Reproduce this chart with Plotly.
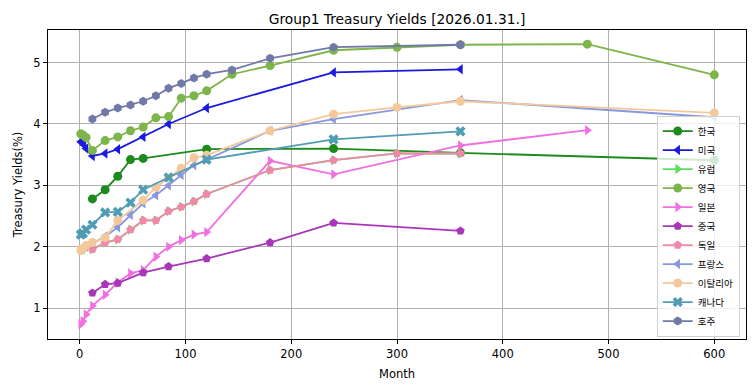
import plotly.graph_objects as go

# ---- data (months to maturity, yield %) ----
korea_m = [12, 24, 36, 48, 60, 120, 240, 360, 600]
korea_v = [2.78, 2.93, 3.15, 3.42, 3.44, 3.59, 3.60, 3.53, 3.41]

us_m = [1, 2, 3, 4, 6, 12, 24, 36, 60, 84, 120, 240, 360]
us_v = [3.71, 3.70, 3.68, 3.66, 3.60, 3.48, 3.52, 3.59, 3.79, 4.00, 4.26, 4.84, 4.89]

germany_m = [12, 24, 36, 48, 60, 72, 84, 96, 108, 120, 180, 240, 300, 360]
germany_v = [1.96, 2.07, 2.12, 2.28, 2.43, 2.43, 2.58, 2.65, 2.74, 2.86, 3.25, 3.41, 3.52, 3.52]

europe_m = [12, 24, 36, 48, 60, 72, 84, 96, 108, 120, 180, 240, 300, 360]
europe_v = [1.96, 2.07, 2.12, 2.28, 2.43, 2.43, 2.58, 2.65, 2.74, 2.86, 3.25, 3.41, 3.52, 3.52]

uk_m = [1, 3, 6, 12, 24, 36, 48, 60, 72, 84, 96, 108, 120, 144, 180, 240, 300, 360, 480, 600]
uk_v = [3.84, 3.82, 3.78, 3.57, 3.73, 3.79, 3.89, 3.95, 4.10, 4.12, 4.42, 4.46, 4.54, 4.81, 4.95, 5.20, 5.25, 5.29, 5.30, 4.80]

japan_m = [1, 3, 6, 12, 24, 36, 48, 60, 72, 84, 96, 108, 120, 180, 240, 360, 480]
japan_v = [0.74, 0.79, 0.90, 1.04, 1.22, 1.42, 1.57, 1.62, 1.84, 2.00, 2.11, 2.20, 2.24, 3.40, 3.18, 3.65, 3.90]

china_m = [12, 24, 36, 60, 84, 120, 180, 240, 360]
china_v = [1.25, 1.39, 1.41, 1.58, 1.68, 1.81, 2.07, 2.39, 2.26]

france_m = [3, 6, 12, 24, 36, 48, 60, 72, 84, 96, 108, 120, 180, 240, 360, 600]
france_v = [1.97, 2.00, 2.05, 2.17, 2.32, 2.52, 2.71, 2.84, 3.00, 3.17, 3.33, 3.42, 3.89, 4.08, 4.39, 4.11]

italy_m = [1, 3, 6, 12, 24, 36, 60, 72, 84, 96, 108, 120, 180, 240, 300, 360, 600]
italy_v = [1.94, 1.97, 2.02, 2.07, 2.15, 2.43, 2.76, 2.97, 3.12, 3.28, 3.45, 3.49, 3.89, 4.16, 4.27, 4.37, 4.18]

canada_m = [1, 2, 3, 6, 12, 24, 36, 48, 60, 84, 120, 240, 360]
canada_v = [2.20, 2.21, 2.22, 2.28, 2.36, 2.56, 2.57, 2.72, 2.93, 3.13, 3.42, 3.75, 3.88]

australia_m = [12, 24, 36, 48, 60, 72, 84, 96, 108, 120, 144, 180, 240, 360]
australia_v = [4.08, 4.19, 4.26, 4.31, 4.37, 4.46, 4.58, 4.66, 4.75, 4.81, 4.88, 5.07, 5.25, 5.29]

names = ["한국", "미국", "유럽", "영국", "일본", "중국", "독일", "프랑스", "이탈리아", "캐나다", "호주"]
months = [korea_m, us_m, europe_m, uk_m, japan_m, china_m, germany_m, france_m, italy_m, canada_m, australia_m]
values = [korea_v, us_v, europe_v, uk_v, japan_v, china_v, germany_v, france_v, italy_v, canada_v, australia_v]
colors = ["#1c8a1c", "#1a1ae0", "#5ee05e", "#7db54a", "#f070e0", "#a836b8",
          "#f088a8", "#8898e0", "#f4c89a", "#509cb4", "#7079a8"]
symbols = ["circle", "triangle-left", "triangle-right", "circle", "triangle-right", "pentagon",
           "pentagon", "triangle-left", "circle", "x", "hexagon"]

x_ticks = [0, 100, 200, 300, 400, 500, 600]
y_ticks = [1, 2, 3, 4, 5]

fig = go.Figure()
for n, m, v, c, s in zip(names, months, values, colors, symbols):
    fig.add_trace(go.Scatter(
        x=m, y=v, name=n, mode="lines+markers",
        line=dict(color=c, width=1.8),
        marker=dict(color=c, symbol=s, size=9, line=dict(width=0)),
    ))

font_main = "DejaVu Sans, sans-serif"
axis_common = dict(
    showline=True, linecolor="black", linewidth=1, mirror=True,
    ticks="outside", ticklen=4, tickcolor="black",
    showgrid=True, gridcolor="#b0b0b0", gridwidth=1, zeroline=False,
    automargin=False,
    tickfont=dict(family=font_main, size=11.5, color="black"),
)

fig.update_layout(
    width=755, height=391,
    margin=dict(l=48, r=9, t=30, b=52),
    paper_bgcolor="white", plot_bgcolor="white",
    title=dict(text="Group1 Treasury Yields [2026.01.31.]", x=0.5, xref="paper",
               y=1 - 19 / 391, yref="container", yanchor="middle",
               font=dict(family=font_main, size=13.8, color="black")),
    xaxis=dict(range=[-30, 630], tickvals=x_ticks,
               title=dict(text="Month", standoff=10,
                          font=dict(family=font_main, size=11.5, color="black")),
               **axis_common),
    yaxis=dict(range=[0.5, 5.53], tickvals=y_ticks,
               title=dict(text="Treasury Yields(%)", standoff=8,
                          font=dict(family=font_main, size=11.5, color="black")),
               **axis_common),
    legend=dict(x=0.991, y=0.008, xanchor="right", yanchor="bottom",
                bgcolor="rgba(255,255,255,0.8)", bordercolor="#d0d0d0", borderwidth=1,
                font=dict(family="Noto Sans CJK KR, sans-serif", size=9.5, color="black"),
                tracegroupgap=0, itemwidth=30),
    showlegend=True,
)

fig.write_html("out.html",
               config={"displayModeBar": False},
               post_script="document.body.style.margin='0';document.body.style.overflow='hidden';")
